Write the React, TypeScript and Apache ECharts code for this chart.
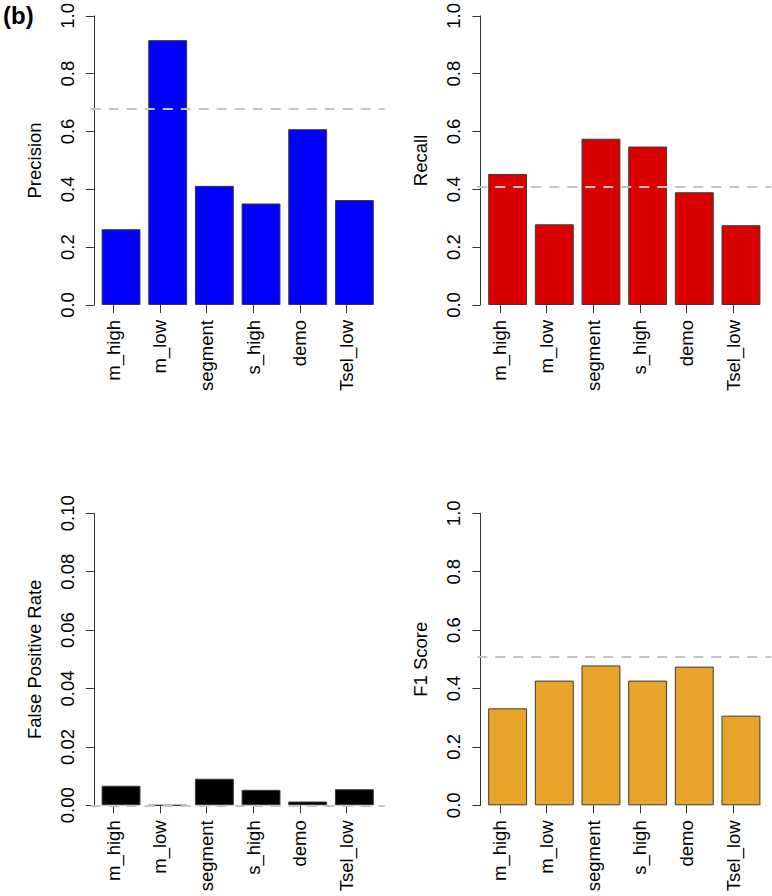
import React, { useEffect, useRef } from "react";
import * as echarts from "echarts";

const categories = ["m_high", "m_low", "segment", "s_high", "demo", "Tsel_low"];
const precision = [0.262, 0.916, 0.412, 0.351, 0.608, 0.363];
const recall = [0.453, 0.279, 0.575, 0.548, 0.39, 0.276];
const fpr = [0.0067, 0.0, 0.0091, 0.0053, 0.0013, 0.0055];
const f1 = [0.332, 0.427, 0.479, 0.427, 0.475, 0.307];
const refLines = [0.682, 0.41, 0.0009, 0.514];
const yLabels = ["Precision", "Recall", "False Positive Rate", "F1 Score"];
const yMax = [1, 1, 0.1, 1];
const yStep = [0.2, 0.2, 0.02, 0.2];
const yDigits = [1, 1, 2, 1];
const colors = ["#0000FF", "#DA0000", "#000000", "#E8A32B"];

// R barplot geometry (width 1, space 0.2, 4% axis extension)
const xMin = -0.08;
const xMax = 7.48;
const barCenters = categories.map((_, i) => 0.7 + i * 1.2);
const tickAt = categories.map((_, i) => 0.5 + i * 1.2);

const FONT = "Liberation Sans, Arial, Helvetica, sans-serif";
const FS = 18.5;
const AX = "#333333";

export default function App() {
  const ref = useRef<HTMLDivElement>(null);
  useEffect(() => {
    if (!ref.current) return;
    const chart = echarts.init(ref.current, null, { renderer: "svg" });
    const plotW = 294;
    const plotH = 292;
    const lefts = [90.7, 477.3, 90.7, 477.3];
    const tops = [13, 13, 513.3, 513.3];
    const unit = plotW / (xMax - xMin);
    const series = [precision, recall, fpr, f1];

    const grid = lefts.map((l, i) => ({
      left: l,
      top: tops[i],
      width: plotW,
      height: plotH,
      containLabel: false,
    }));

    const xAxis = lefts.map((_, i) => ({
      type: "value",
      gridIndex: i,
      min: xMin,
      max: xMax,
      splitLine: { show: false },
      axisLine: { show: false },
      axisTick: {
        show: true,
        customValues: tickAt,
        length: 8,
        lineStyle: { color: AX, width: 1 },
      },
      axisLabel: {
        show: true,
        customValues: tickAt,
        rotate: 90,
        margin: 15,
        fontFamily: FONT,
        fontSize: FS,
        color: "#000",
        formatter: (v: number) => categories[Math.round((v - 0.5) / 1.2)] ?? "",
      },
    }));

    const yAxis = lefts.map((_, i) => ({
      type: "value",
      gridIndex: i,
      min: 0,
      max: yMax[i],
      interval: yStep[i],
      name: yLabels[i],
      nameLocation: "middle",
      nameGap: 47,
      nameRotate: 90,
      nameTextStyle: { fontFamily: FONT, fontSize: FS, color: "#000" },
      splitLine: { show: false },
      axisLine: { show: true, lineStyle: { color: AX, width: 1 } },
      axisTick: { show: true, length: 8, lineStyle: { color: AX, width: 1 } },
      axisLabel: {
        rotate: 90,
        margin: 14,
        fontFamily: FONT,
        fontSize: FS,
        color: "#000",
        formatter: (v: number) => v.toFixed(yDigits[i]),
      },
    }));

    const seriesOpts = series.map((vals, i) => ({
      type: "bar",
      xAxisIndex: i,
      yAxisIndex: i,
      barWidth: unit,
      data: vals.map((v, j) => [barCenters[j], v]),
      itemStyle: { color: colors[i], borderColor: "#3a3a3a", borderWidth: 1 },
      markLine: {
        silent: true,
        symbol: "none",
        label: { show: false },
        lineStyle: { color: "#C4C4C4", type: [10, 8], width: 2 },
        data: [{ yAxis: refLines[i] }],
      },
    }));

    chart.setOption({
      animation: false,
      backgroundColor: "#ffffff",
      grid,
      xAxis,
      yAxis,
      series: seriesOpts,
      graphic: [
        {
          type: "text",
          left: 3,
          top: 3,
          style: {
            text: "(b)",
            fontFamily: FONT,
            fontSize: 24,
            fontWeight: "bold",
            fill: "#000",
          },
        },
      ],
    });
    return () => chart.dispose();
  }, []);
  return (
    <div
      ref={ref}
      style={{ position: "fixed", left: 0, top: 0, width: 772, height: 896, background: "#fff" }}
    />
  );
}
